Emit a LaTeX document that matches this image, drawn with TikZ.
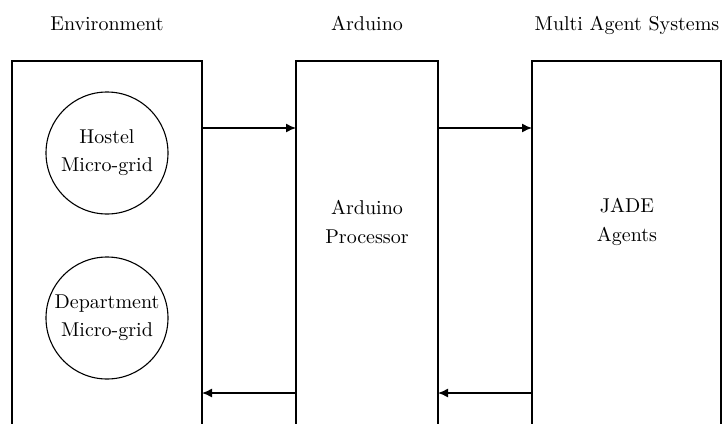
\documentclass[tikz,border=0pt]{standalone}
\usetikzlibrary{arrows.meta}
\begin{document}
\begin{tikzpicture}[x=0.5pt,y=-0.5pt,
  blockbox/.style={draw,line width=0.8pt,rectangle,inner sep=0pt,outer sep=0pt,minimum height=194.5pt},
  gridcircle/.style={draw,line width=0.55pt,circle,minimum size=61pt,inner sep=0pt,outer sep=0pt,align=center,font=\fontsize{10}{14}\selectfont},
  heading/.style={anchor=base,inner sep=0pt,font=\fontsize{10}{12}\selectfont},
  inlabel/.style={align=center,inner sep=0pt,font=\fontsize{10}{14.5}\selectfont},
  flow/.style={line width=0.7pt,-{Latex[length=5pt,width=4.5pt]}}
]
\clip (0,0) rectangle (722,423);
\fill[white] (0,0) rectangle (722,423);

\node[blockbox,minimum width=95pt] (env) at (107,255.5) {};
\node[blockbox,minimum width=71pt] (ard) at (367,255.5) {};
\node[blockbox,minimum width=94.5pt] (mas) at (626.5,255.5) {};

\node[heading] (henv) at (107,30) {Environment};
\node[heading] (hard) at (367,30) {Arduino};
\node[heading] (hmas) at (627,30) {Multi Agent Systems};

\node[gridcircle] (hostel) at (107,153) {Hostel\\Micro-grid};
\node[gridcircle] (dept) at (107,318) {Department\\Micro-grid};

\node[inlabel] (proc) at (367,222) {Arduino\\Processor};
\node[inlabel] (jade) at (627,222) {JADE\\Agents};

\coordinate (ytop) at (0,128);
\coordinate (ybot) at (0,393);

\draw[flow] (env.east |- ytop) -- (ard.west |- ytop);
\draw[flow] (ard.east |- ytop) -- (mas.west |- ytop);
\draw[flow] (mas.west |- ybot) -- (ard.east |- ybot);
\draw[flow] (ard.west |- ybot) -- (env.east |- ybot);
\end{tikzpicture}
\end{document}
